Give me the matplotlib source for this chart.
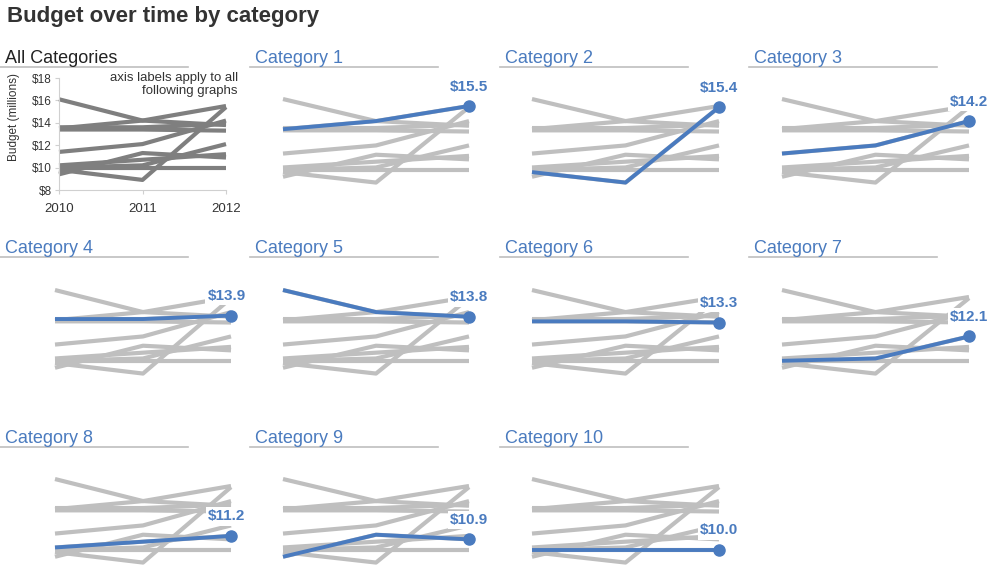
import matplotlib.pyplot as plt
from matplotlib.lines import Line2D

plt.rcParams['font.family'] = ['Liberation Sans', 'DejaVu Sans']

# data (millions)
years = [2010, 2011, 2012]
cat_names = ["Category 1", "Category 2", "Category 3", "Category 4", "Category 5",
             "Category 6", "Category 7", "Category 8", "Category 9", "Category 10"]
cat1 = [13.5, 14.2, 15.5]
cat2 = [9.8, 8.9, 15.4]
cat3 = [11.4, 12.1, 14.2]
cat4 = [13.6, 13.6, 13.9]
cat5 = [16.1, 14.2, 13.8]
cat6 = [13.4, 13.4, 13.3]
cat7 = [10.0, 10.2, 12.1]
cat8 = [10.2, 10.7, 11.2]
cat9 = [9.4, 11.3, 10.9]
cat10 = [10.0, 10.0, 10.0]
budgets = [cat1, cat2, cat3, cat4, cat5, cat6, cat7, cat8, cat9, cat10]
y_ticks = [8, 10, 12, 14, 16, 18]

BLUE = "#4a7bbf"
LIGHT = "#bfbfbf"
DARK = "#7f7f7f"
TEXT = "#333333"

W, H = 1000, 587
fig = plt.figure(figsize=(10, 5.87), dpi=100)


def box(l, r, t, b):
    # pixel box -> figure fraction
    return [l / W, 1 - b / H, (r - l) / W, (b - t) / H]


# layout in pixels
col_x = [(55, 231), (283, 469), (532, 719), (782, 969)]
row_y = [(77, 193), (268, 384), (457, 573)]
head_x = [5, 255, 505, 754]
rule_x = [(0, 188), (250, 438), (500, 688), (749, 937)]
head_base = [63, 253, 443]
rule_y = [67, 257, 447]


def header(row, col, text, color):
    fig.text(head_x[col] / W, 1 - head_base[row] / H, text, fontsize=13,
             color=color, va='baseline', ha='left')
    x0, x1 = rule_x[col]
    fig.add_artist(Line2D([x0 / W, x1 / W], [1 - rule_y[row] / H] * 2,
                          color=LIGHT, lw=1.2, transform=fig.transFigure))


fig.text(7 / W, 1 - 22 / H, "Budget over time by category", fontsize=16,
         fontweight='bold', color=TEXT, va='baseline')

# -------------------------------
# first panel: all categories
# -------------------------------
header(0, 0, "All Categories", "#222222")
ax0 = fig.add_axes(box(59, 226, 78, 190))
for vals in budgets:
    ax0.plot(years, vals, color=DARK, lw=3, solid_capstyle='butt', clip_on=False)
ax0.set_xlim(2010, 2012)
ax0.set_ylim(8, 18)
ax0.set_xticks(years)
ax0.set_xticklabels([str(y) for y in years])
ax0.set_yticks(y_ticks)
ax0.set_yticklabels([f"${v}" for v in y_ticks])
for s in ["top", "right"]:
    ax0.spines[s].set_visible(False)
for s in ["left", "bottom"]:
    ax0.spines[s].set_color("#d0d0d0")
ax0.tick_params(axis='y', length=3, color="#d0d0d0", labelsize=8.5,
                labelcolor=TEXT, pad=2)
ax0.tick_params(axis='x', length=3, color="#d0d0d0", labelsize=9.5,
                labelcolor=TEXT, pad=6)
fig.text(14 / W, 1 - 117 / H, "Budget (millions)", rotation=90, fontsize=8.5,
         color=TEXT, ha='center', va='center')
fig.text(238 / W, 1 - 72 / H, "axis labels apply to all\nfollowing graphs",
         fontsize=9.5, color=TEXT, ha='right', va='top', linespacing=1.15)

# -------------------------------
# small multiples
# -------------------------------
for i, (name, vals) in enumerate(zip(cat_names, budgets)):
    slot = i + 1
    row, col = slot // 4, slot % 4
    header(row, col, name, BLUE)
    l, r = col_x[col]
    t, b = row_y[row]
    ax = fig.add_axes(box(l, r, t, b))
    for other in budgets:
        ax.plot(years, other, color=LIGHT, lw=3, solid_capstyle='butt',
                clip_on=False, zorder=2)
    ax.plot(years, vals, color=BLUE, lw=2.8, solid_capstyle='butt',
            clip_on=False, zorder=4)
    ax.plot(years[-1], vals[-1], 'o', color=BLUE, ms=8, clip_on=False, zorder=5)
    dx = -3 if col == 0 else 0
    ax.annotate(f"${vals[-1]:.1f}", xy=(years[-1], vals[-1]), xytext=(dx, 14),
                textcoords='offset points', ha='center', va='center',
                fontsize=11, fontweight='bold', color=BLUE, zorder=6,
                annotation_clip=False,
                bbox=dict(boxstyle='square,pad=0.15', fc='white', ec='none'))
    ax.set_xlim(2010, 2012)
    ax.set_ylim(8, 18)
    ax.axis('off')

fig.savefig("out.png", dpi=100)
